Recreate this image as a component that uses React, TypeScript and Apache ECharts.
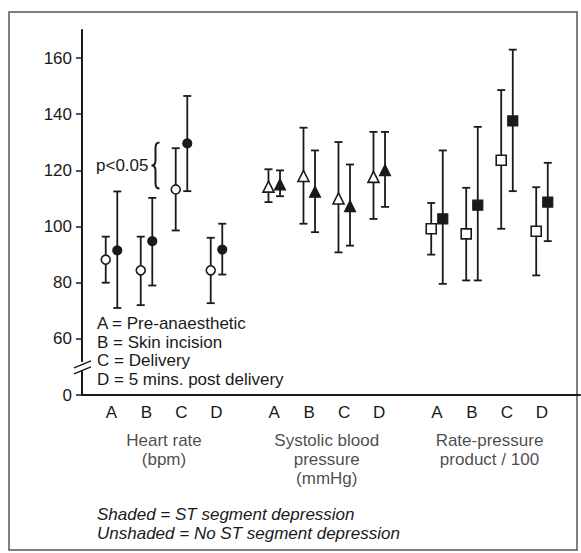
import React, { useEffect, useRef } from 'react';
import * as echarts from 'echarts';

// ---- data ----
const stages = ['A', 'B', 'C', 'D'];
const groupTitles = ['Heart rate\n(bpm)', 'Systolic blood\npressure\n(mmHg)', 'Rate-pressure\nproduct / 100'];
const groupStarts = [0, 4.65, 9.3];
const markerShapes = ['circle', 'triangle', 'rect'];
const stageLegend = ['A = Pre-anaesthetic', 'B = Skin incision', 'C = Delivery', 'D = 5 mins. post delivery'];
const notes = ['Shaded = ST segment depression', 'Unshaded = No ST segment depression'];
// 40 is the broken-axis origin, labelled "0"
const yTicks = [40, 60, 80, 100, 120, 140, 160];
const yTickLabels = ['0', '60', '80', '100', '120', '140', '160'];
const significance = 'p<0.05';

// order: HR A-D, SBP A-D, RPP A-D
const unshadedMean = [88.2, 84.4, 113.2, 84.4, 114.2, 118, 110, 117.7, 99.2, 97.4, 123.6, 98.3];
const unshadedHigh = [96.4, 96.4, 127.9, 96, 120.4, 135.2, 130.1, 133.7, 108.4, 113.8, 148.6, 114];
const unshadedLow = [80, 72, 98.6, 72.7, 108.7, 101, 90.8, 102.7, 90, 80.8, 99.2, 82.6];
const shadedMean = [91.5, 94.8, 129.6, 91.8, 115, 112.4, 107.3, 120.1, 102.7, 107.6, 137.6, 108.7];
const shadedHigh = [112.5, 110.2, 146.5, 101, 120, 127.1, 122.1, 133.7, 127.1, 135.5, 163, 122.7];
const shadedLow = [71, 79, 112.6, 82.9, 110.8, 98, 93.2, 107, 79.6, 80.8, 112.6, 94.8];

const PAIR = 0.165;
const X_MIN = -0.843;
const X_MAX = 13.386;
const FONT = '"Liberation Sans", Arial, Helvetica, sans-serif';
const INK = '#1a1a1a';

const positions: number[] = [];
groupStarts.forEach((g) => stages.forEach((_, i) => positions.push(g + i)));

export default function App() {
  const ref = useRef<HTMLDivElement>(null);
  useEffect(() => {
    if (!ref.current) return;
    const chart = echarts.init(ref.current, null, { renderer: 'svg' });

    const errData = (mean: number[], lo: number[], hi: number[], off: number) =>
      mean.map((_, i) => [positions[i] + off, lo[i], hi[i]]);
    const ptData = (mean: number[], off: number) => mean.map((m, i) => [positions[i] + off, m]);

    const errRender = (params: any, api: any) => {
      const x = api.value(0);
      const lo = api.coord([x, api.value(1)]);
      const hi = api.coord([x, api.value(2)]);
      const s = { stroke: INK, lineWidth: 1.8 };
      const cw = 4;
      return {
        type: 'group',
        children: [
          { type: 'line', shape: { x1: lo[0], y1: lo[1], x2: hi[0], y2: hi[1] }, style: s },
          { type: 'line', shape: { x1: hi[0] - cw, y1: hi[1], x2: hi[0] + cw, y2: hi[1] }, style: s },
          { type: 'line', shape: { x1: lo[0] - cw, y1: lo[1], x2: lo[0] + cw, y2: lo[1] }, style: s },
        ],
      };
    };

    const symbolFn = (_v: any, p: any) => markerShapes[Math.floor(p.dataIndex / 4)];
    const sizeFn = (_v: any, p: any) => [9, 11, 10][Math.floor(p.dataIndex / 4)];

    // annotation: brace between HR "C" means, and axis-break marks
    const braceIdx = 2;
    const annRender = (params: any, api: any) => {
      const c = api.coord([positions[braceIdx], unshadedMean[braceIdx]]);
      const top = api.coord([positions[braceIdx], shadedMean[braceIdx]]);
      const tip = c[0] - 30;
      const spine = tip + 4;
      const right = tip + 8;
      const y1 = top[1] - 1;
      const y2 = c[1] - 1;
      const ym = (y1 + y2) / 2;
      const d =
        `M${right},${y1} Q${spine},${y1} ${spine},${y1 + 5} L${spine},${ym - 5} Q${spine},${ym} ${tip},${ym} ` +
        `Q${spine},${ym} ${spine},${ym + 5} L${spine},${y2 - 5} Q${spine},${y2} ${right},${y2}`;
      const br = api.coord([X_MIN, 50]);
      const bx = br[0];
      const by = br[1];
      return {
        type: 'group',
        children: [
          { type: 'path', shape: { pathData: d }, style: { fill: 'none', stroke: INK, lineWidth: 2 } },
          {
            type: 'text',
            style: {
              text: significance, x: tip - 3, y: ym, align: 'right', verticalAlign: 'middle',
              font: `17px ${FONT}`, fill: INK,
            },
          },
          { type: 'rect', shape: { x: bx - 3, y: by - 5, width: 6, height: 9 }, style: { fill: '#fff' } },
          { type: 'line', shape: { x1: bx - 8, y1: by + 1, x2: bx + 9, y2: by - 6 }, style: { stroke: INK, lineWidth: 1.5 } },
          { type: 'line', shape: { x1: bx - 8, y1: by + 7, x2: bx + 9, y2: by }, style: { stroke: INK, lineWidth: 1.5 } },
        ],
      };
    };

    const titleData = groupStarts.map((g, i) => ({ value: [g + 1.5, 40], name: groupTitles[i] }));

    chart.setOption({
      animation: false,
      backgroundColor: '#fff',
      textStyle: { fontFamily: FONT },
      grid: { left: 82, right: 1, top: 30, bottom: 158, containLabel: false },
      xAxis: {
        type: 'value',
        min: X_MIN,
        max: X_MAX,
        splitLine: { show: false },
        axisTick: { show: false },
        axisLine: { onZero: false, lineStyle: { color: INK, width: 2 } },
        axisLabel: {
          customValues: positions,
          margin: 9,
          color: INK,
          fontSize: 17,
          fontFamily: FONT,
          formatter: (v: number) => {
            const i = positions.findIndex((p) => Math.abs(p - v) < 0.01);
            return i >= 0 ? stages[i % 4] : '';
          },
        },
      },
      yAxis: {
        type: 'value',
        min: 40,
        max: 170,
        splitLine: { show: false },
        axisLine: { show: true, onZero: false, lineStyle: { color: INK, width: 2 } },
        axisTick: { show: true, customValues: yTicks, length: 6, lineStyle: { color: INK, width: 1.5 } },
        axisLabel: {
          customValues: yTicks,
          margin: 10,
          color: INK,
          fontSize: 17,
          fontFamily: FONT,
          formatter: (v: number) => {
            const i = yTicks.indexOf(v);
            return i >= 0 ? yTickLabels[i] : '';
          },
        },
      },
      graphic: [
        {
          type: 'rect', silent: true, z: -10,
          shape: { x: 9, y: 12, width: 568, height: 538 },
          style: { fill: 'none', stroke: '#555', lineWidth: 1.5 },
        },
        {
          type: 'text', left: 97, top: 314,
          style: { text: stageLegend.join('\n'), font: `17px ${FONT}`, lineHeight: 18.7, fill: INK },
        },
        {
          type: 'text', left: 97, top: 505,
          style: { text: notes.join('\n'), font: `italic 17px ${FONT}`, lineHeight: 19, fill: INK },
        },
      ],
      series: [
        { type: 'custom', name: 'unshaded err', renderItem: errRender, data: errData(unshadedMean, unshadedLow, unshadedHigh, -PAIR), encode: { x: 0, y: [1, 2] }, z: 2, silent: true },
        { type: 'custom', name: 'shaded err', renderItem: errRender, data: errData(shadedMean, shadedLow, shadedHigh, PAIR), encode: { x: 0, y: [1, 2] }, z: 2, silent: true },
        {
          type: 'scatter', name: 'Unshaded', data: ptData(unshadedMean, -PAIR), symbol: symbolFn, symbolSize: sizeFn,
          itemStyle: { color: '#fff', borderColor: INK, borderWidth: 1.6, opacity: 1 }, z: 3, silent: true,
        },
        {
          type: 'scatter', name: 'Shaded', data: ptData(shadedMean, PAIR), symbol: symbolFn, symbolSize: sizeFn,
          itemStyle: { color: INK, borderColor: INK, borderWidth: 1.2, opacity: 1 }, z: 3, silent: true,
        },
        {
          type: 'scatter', name: 'titles', data: titleData, symbolSize: 0, clip: false, silent: true,
          label: {
            show: true, position: 'bottom', distance: 36, formatter: (p: any) => p.name,
            fontSize: 17, lineHeight: 19, color: INK, fontFamily: FONT, align: 'center',
          },
        },
        { type: 'custom', name: 'annotations', renderItem: annRender, data: [[0]], clip: false, silent: true, z: 4 },
      ],
    });
    return () => chart.dispose();
  }, []);
  return <div ref={ref} style={{ position: 'fixed', left: 0, top: 0, width: 581, height: 553, background: '#fff' }} />;
}
